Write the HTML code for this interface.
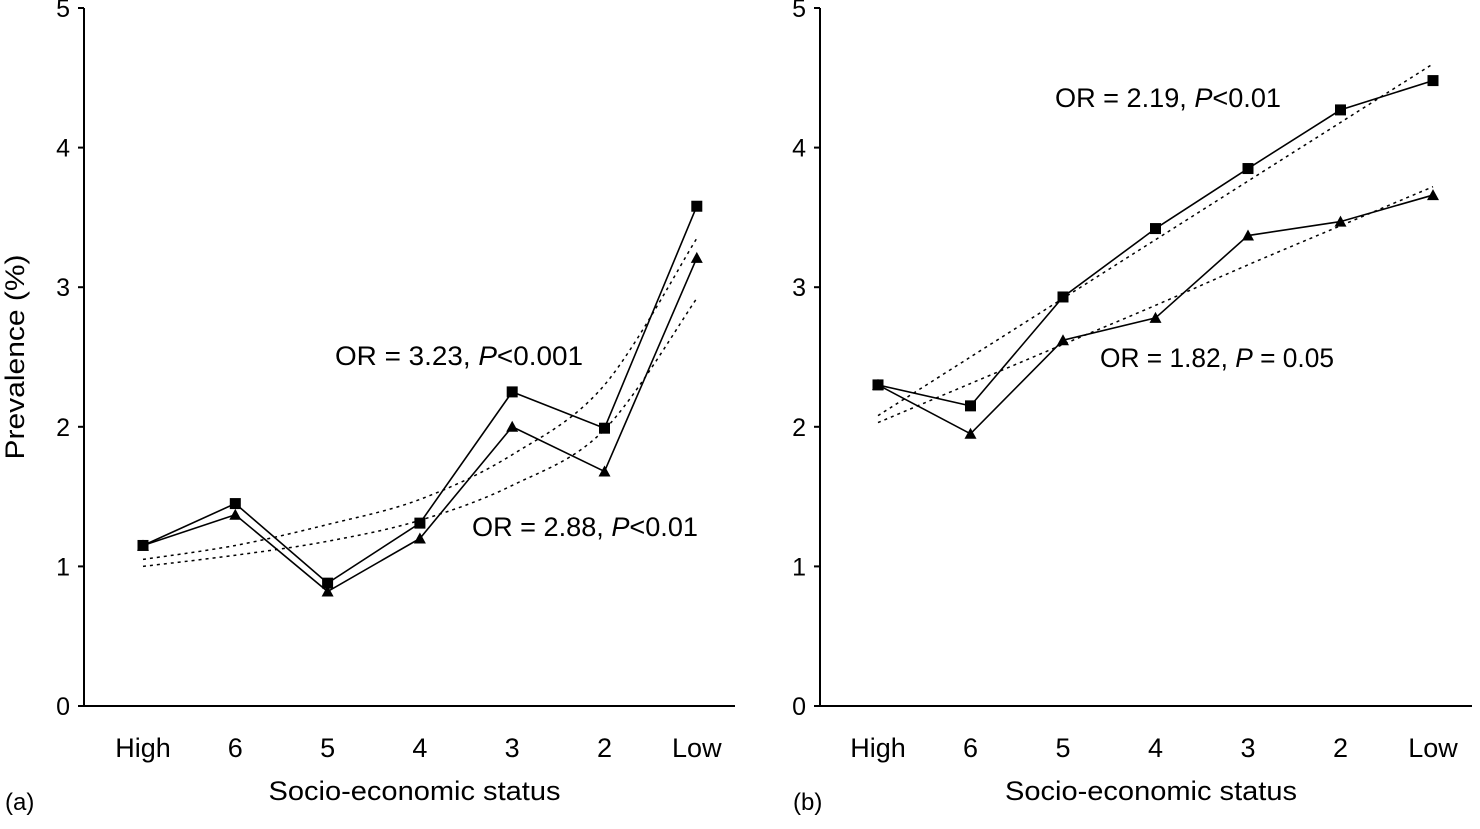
<!DOCTYPE html>
<html><head><meta charset="utf-8"><style>
body{margin:0;background:#fff}
svg{display:block;font-family:"Liberation Sans",sans-serif}
</style></head><body>
<svg id="chart" width="1480" height="829" viewBox="0 0 1480 829"></svg>
<script>
const categories=["High","6","5","4","3","2","Low"];
const aSquares=[1.15,1.45,0.88,1.31,2.25,1.99,3.58];
const aTriangles=[1.15,1.37,0.82,1.2,2.0,1.68,3.21];
const aSquaresFit=[1.05,1.15,1.3,1.48,1.8,2.3,3.35];
const aTrianglesFit=[1.0,1.08,1.18,1.33,1.58,1.98,2.92];
const bSquares=[2.3,2.15,2.93,3.42,3.85,4.27,4.48];
const bTriangles=[2.3,1.95,2.62,2.78,3.37,3.47,3.66];
const bSquaresFit=[2.08,2.5,2.92,3.34,3.76,4.18,4.6];
const bTrianglesFit=[2.03,2.31,2.59,2.87,3.16,3.44,3.72];
const yTicks=[0,1,2,3,4,5];
const NS="http://www.w3.org/2000/svg";
const svg=document.getElementById('chart');
function mk(tag,attrs,parent){const e=document.createElementNS(NS,tag);for(const k in attrs)e.setAttribute(k,attrs[k]);(parent||svg).appendChild(e);return e;}
function smooth(pts){
  let d='M'+pts[0][0]+','+pts[0][1];
  for(let i=0;i<pts.length-1;i++){
    const p0=pts[Math.max(0,i-1)],p1=pts[i],p2=pts[i+1],p3=pts[Math.min(pts.length-1,i+2)];
    const c1=[p1[0]+(p2[0]-p0[0])/6,p1[1]+(p2[1]-p0[1])/6];
    const c2=[p2[0]-(p3[0]-p1[0])/6,p2[1]-(p3[1]-p1[1])/6];
    d+=` C${c1[0]},${c1[1]} ${c2[0]},${c2[1]} ${p2[0]},${p2[1]}`;
  }
  return d;
}
function panel(id,ax,x0,dx,xEnd,sq,tr,sqF,trF,labels){
  const g=mk('g',{});
  
  
  const y0=706,unit=139.6;
  const Y=v=>y0-v*unit, X=i=>x0+i*dx;
  const yAx=mk('line',{x1:ax,y1:Y(5),x2:ax,y2:y0,stroke:'#000','stroke-width':2},g);
  
  
  const xAx=mk('line',{x1:ax,y1:y0,x2:xEnd,y2:y0,stroke:'#000','stroke-width':2},g);
  
  
  yTicks.forEach(t=>{
    mk('line',{x1:ax-6,y1:Y(t),x2:ax,y2:Y(t),stroke:'#000','stroke-width':2},g);
    const tx=mk('text',{x:ax-14,y:Y(t)+9,'text-anchor':'end','font-size':25},g);
    tx.textContent=t;
    
    
  });
  categories.forEach((c,i)=>{
    const tx=mk('text',{x:X(i),y:757,'text-anchor':'middle','font-size':27},g);
    tx.textContent=c;
    
    
  });
  [sqF,trF].forEach((f,k)=>{
    const p=mk('path',{d:smooth(f.map((v,i)=>[X(i),Y(v)])),fill:'none',stroke:'#000','stroke-width':1.5,'stroke-dasharray':'3,4'},g);
    
    
  });
  [sq,tr].forEach((s,k)=>{
    const p=mk('polyline',{points:s.map((v,i)=>X(i)+','+Y(v)).join(' '),fill:'none',stroke:'#000','stroke-width':1.6},g);
    
    
  });
  sq.forEach((v,i)=>{
    const r=mk('rect',{x:X(i)-5.5,y:Y(v)-5.5,width:11,height:11,fill:'#000'},g);
    
    
  });
  tr.forEach((v,i)=>{
    const x=X(i),y=Y(v);
    const p=mk('polygon',{points:`${x},${y-6} ${x-6},${y+5} ${x+6},${y+5}`,fill:'#000'},g);
    
    
  });
  labels.forEach(l=>{
    const t=mk('text',{x:l[0],y:l[1],'font-size':l[3],'textLength':l[4],'lengthAdjust':'spacingAndGlyphs'},g);
    t.innerHTML=l[2];
    
    
  });
  const xt=mk('text',{x:(ax+xEnd)/2+5,y:800,'text-anchor':'middle','font-size':27,'textLength':292,'lengthAdjust':'spacingAndGlyphs'},g);
  xt.textContent='Socio-economic status';
  
  
  const pl=mk('text',{x:id==='a'?5:793,y:810,'font-size':24},g);
  pl.textContent='('+id+')';
  
  
}
panel('a',84,143,92.3,735,aSquares,aTriangles,aSquaresFit,aTrianglesFit,
 [[335,365,'OR = 3.23, <tspan font-style="italic">P</tspan>&lt;0.001',27,248],[472,536,'OR = 2.88, <tspan font-style="italic">P</tspan>&lt;0.01',27,226]]);
panel('b',820,878,92.5,1472,bSquares,bTriangles,bSquaresFit,bTrianglesFit,
 [[1055,107,'OR = 2.19, <tspan font-style="italic">P</tspan>&lt;0.01',27,226],[1100,367,'OR = 1.82, <tspan font-style="italic">P</tspan> = 0.05',27,234]]);
const yt=mk('text',{x:0,y:0,'text-anchor':'middle','font-size':27,'textLength':205,'lengthAdjust':'spacingAndGlyphs',transform:'translate(24,357) rotate(-90)'});
yt.textContent='Prevalence (%)';


</script>
</body></html>
